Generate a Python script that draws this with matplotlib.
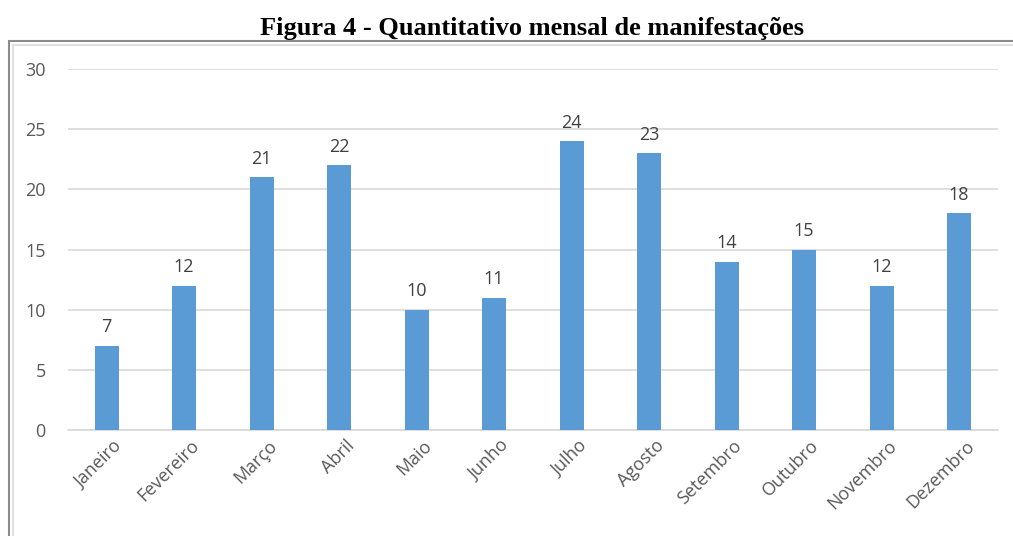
import matplotlib
matplotlib.use("Agg")
from matplotlib import pyplot as plt
import matplotlib.patches as mpatches
import matplotlib.transforms as mtrans

# dados
meses = ["Janeiro", "Fevereiro", "Março", "Abril", "Maio", "Junho",
         "Julho", "Agosto", "Setembro", "Outubro", "Novembro", "Dezembro"]
quantidade = [7, 12, 21, 22, 10, 11, 24, 23, 14, 15, 12, 18]
yticks = [0, 5, 10, 15, 20, 25, 30]

fig = plt.figure(figsize=(10.13, 5.36), dpi=100)
ax = fig.add_axes([0.067, 0.198, 0.918, 0.673])

x = range(len(meses))
bars = ax.bar(x, quantidade, width=0.31, color="#5B9BD5", zorder=3)

# rótulos de valor acima das barras
for b, v in zip(bars, quantidade):
    ax.text(b.get_x() + b.get_width() / 2, v + 0.8, str(v), ha="center", va="bottom",
            fontsize=13, color="#404040", family="Open Sans")

ax.set_xlim(-0.5, 11.5)
ax.set_ylim(0, 30)
ax.set_yticks(yticks)
ax.set_xticks(list(x))
ax.set_xticklabels(meses, rotation=45, ha="right", rotation_mode="anchor")
ax.tick_params(length=0, colors="#595959", labelsize=13, pad=16)
ax.tick_params(axis="x", pad=5)
desloc = mtrans.ScaledTranslation(6 / 100, 0, fig.dpi_scale_trans)
for lab in ax.get_xticklabels():
    lab.set_transform(lab.get_transform() + desloc)
for lab in ax.get_xticklabels() + ax.get_yticklabels():
    lab.set_family("Open Sans")

ax.grid(axis="y", color="#D9D9D9", linewidth=1.2, zorder=0)
for s in ["top", "right", "left"]:
    ax.spines[s].set_visible(False)
ax.spines["bottom"].set_color("#D9D9D9")
ax.spines["bottom"].set_linewidth(1.2)

# moldura do gráfico
fig.patches.append(mpatches.Rectangle((9 / 1013, -0.1), 1.2, 1 - 41 / 536 + 0.1,
                                      transform=fig.transFigure, fill=False,
                                      edgecolor="#8C8C8C", linewidth=1.5))
fig.patches.append(mpatches.Rectangle((13 / 1013, -0.1), 1.2, 1 - 45 / 536 + 0.1,
                                      transform=fig.transFigure, fill=False,
                                      edgecolor="#D9D9D9", linewidth=1.2))

fig.text(0.525, 1 - 28 / 536, "Figura 4 - Quantitativo mensal de manifestações",
         ha="center", va="center", fontsize=19, fontweight="bold",
         family="Liberation Serif")

fig.savefig("out.png", dpi=100)
